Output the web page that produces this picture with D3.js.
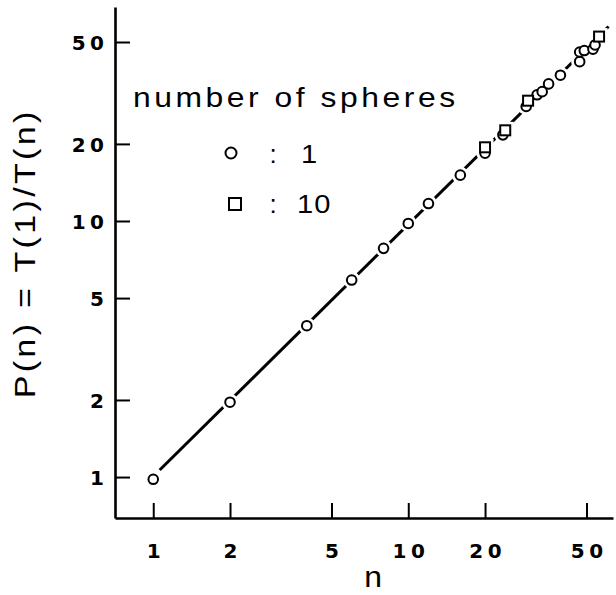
<!DOCTYPE html>
<html>
<head>
<meta charset="utf-8">
<script src="https://cdn.jsdelivr.net/npm/d3@7"></script>
<style>
  html, body { margin: 0; padding: 0; background: #fff; }
  svg { display: block; }
</style>
</head>
<body>
<svg id="chart" width="616" height="595"></svg>
<script>
// ---- data ----
const xTicks = [1, 2, 5, 10, 20, 50];
const yTicks = [1, 2, 5, 10, 20, 50];

// one sphere (circles)
const circleN = [1, 2, 4, 6, 8, 10, 12, 16, 20, 23.5, 29, 32, 33.5, 35.5, 39.5, 47, 47, 49, 53, 54];
const circleP = [0.98, 1.96, 3.9, 5.88, 7.82, 9.78, 11.7, 15.1, 18.4, 21.7, 28, 31.1, 32, 34.3, 37.1, 41.9, 45.7, 46.3, 46.9, 48.7];

// ten spheres (squares)
const squareN = [20, 24, 29.5, 56];
const squareP = [19.4, 22.6, 29.5, 52.5];

// fitted straight line (end points)
const lineN = [1.06, 61];
const lineP = [1.065, 57.5];

const xTitle = "n";
const yTitle = "P(n) = T(1)/T(n)";
const legendTitle = "number of spheres";
const legendLabels = ["1", "10"];

// ---- drawing ----
const svg = d3.select("#chart");
svg.append("rect").attr("width", 616).attr("height", 595).attr("fill", "#fff");

const x = d3.scaleLog().domain([0.708, 63.5]).range([115, 613]);
const y = d3.scaleLog().domain([0.692, 68.5]).range([518, 7]);

const tickFont = "'DejaVu Sans', sans-serif";
const textFont = "'Liberation Sans', Arial, sans-serif";

// x axis
const gx = svg.append("g")
  .attr("transform", "translate(0,518)")
  .call(d3.axisBottom(x).tickValues(xTicks).tickSizeInner(-15).tickSizeOuter(0)
        .tickPadding(26).tickFormat(d3.format("d")));
// y axis
const gy = svg.append("g")
  .attr("transform", "translate(115,0)")
  .call(d3.axisLeft(y).tickValues(yTicks).tickSizeInner(-15).tickSizeOuter(0)
        .tickPadding(11).tickFormat(d3.format("d")));

[gx, gy].forEach(g => {
  g.select(".domain").attr("stroke", "#000").attr("stroke-width", 2.6);
  g.selectAll(".tick line").attr("stroke", "#000").attr("stroke-width", 2);
  g.selectAll(".tick text")
    .attr("fill", "#000")
    .attr("font-family", tickFont)
    .attr("font-weight", "bold")
    .attr("font-size", 20)
    .attr("letter-spacing", "4.5px");
});
gx.selectAll(".tick text").attr("dx", "2.25px");
gy.selectAll(".tick text").attr("dx", "4.5px").attr("dy", "0.36em");

// fitted line
const lineData = lineN.map((n, i) => [n, lineP[i]]);
svg.append("path")
  .datum(lineData)
  .attr("d", d3.line().x(d => x(d[0])).y(d => y(d[1])))
  .attr("fill", "none")
  .attr("stroke", "#000")
  .attr("stroke-width", 3);

const circles = circleN.map((n, i) => ({ n, p: circleP[i] }));
const squares = squareN.map((n, i) => ({ n, p: squareP[i] }));

// white halos (gaps in the line around markers)
svg.append("g").selectAll("circle").data(circles).join("circle")
  .attr("cx", d => x(d.n)).attr("cy", d => y(d.p)).attr("r", 8.5).attr("fill", "#fff");
svg.append("g").selectAll("rect").data(squares).join("rect")
  .attr("x", d => x(d.n) - 8.5).attr("y", d => y(d.p) - 8.5)
  .attr("width", 17).attr("height", 17).attr("fill", "#fff");

// markers
svg.append("g").selectAll("circle").data(circles).join("circle")
  .attr("cx", d => x(d.n)).attr("cy", d => y(d.p)).attr("r", 4.8)
  .attr("fill", "#fff").attr("stroke", "#000").attr("stroke-width", 2);
svg.append("g").selectAll("rect").data(squares).join("rect")
  .attr("x", d => x(d.n) - 5).attr("y", d => y(d.p) - 5)
  .attr("width", 10).attr("height", 10)
  .attr("fill", "#fff").attr("stroke", "#000").attr("stroke-width", 2);

// axis titles
svg.append("text")
  .attr("transform", "translate(373,587) scale(1.1,1)")
  .attr("text-anchor", "middle")
  .attr("font-family", textFont).attr("font-size", 29)
  .text(xTitle);

svg.append("text")
  .attr("transform", "translate(35,255) rotate(-90) scale(1.18,1)")
  .attr("text-anchor", "middle")
  .attr("font-family", textFont).attr("font-size", 29)
  .attr("textLength", 243).attr("lengthAdjust", "spacing")
  .text(yTitle);

// legend
svg.append("text")
  .attr("transform", "translate(133,107) scale(1.18,1)")
  .attr("font-family", textFont).attr("font-size", 27)
  .attr("textLength", 273).attr("lengthAdjust", "spacing")
  .text(legendTitle);

svg.append("circle").attr("cx", 231).attr("cy", 153).attr("r", 5.5)
  .attr("fill", "#fff").attr("stroke", "#000").attr("stroke-width", 2);
svg.append("rect").attr("x", 229).attr("y", 198).attr("width", 12).attr("height", 12)
  .attr("fill", "#fff").attr("stroke", "#000").attr("stroke-width", 2);

const rowY = [163, 213];
legendLabels.forEach((lab, i) => {
  svg.append("text")
    .attr("x", 273).attr("y", rowY[i])
    .attr("text-anchor", "middle")
    .attr("font-family", textFont).attr("font-size", 26)
    .text(":");
  svg.append("text")
    .attr("transform", `translate(${i === 0 ? 301 : 297},${rowY[i]}) scale(1.12,1)`)
    .attr("font-family", textFont).attr("font-size", 26)
    .attr("letter-spacing", "1px")
    .text(lab);
});
</script>
</body>
</html>
